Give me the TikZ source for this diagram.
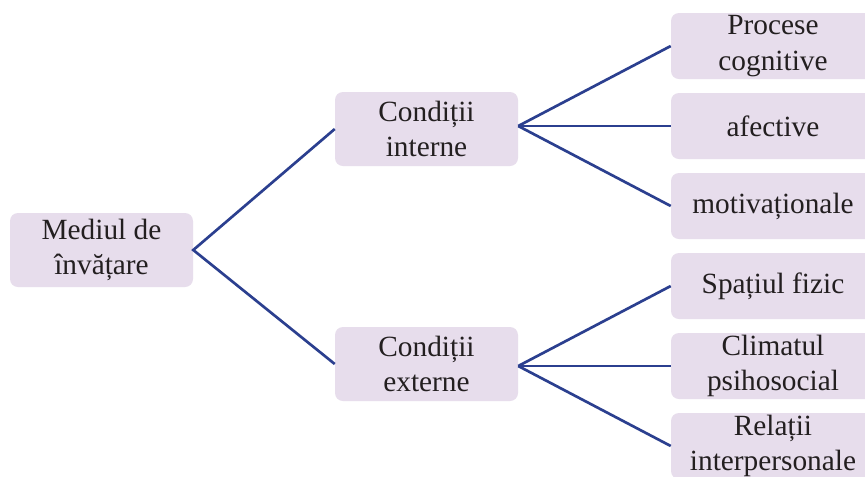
\documentclass[tikz,border=0pt]{standalone}
\usepackage{fontspec}
\setmainfont{Liberation Serif}
\definecolor{boxfill}{HTML}{E7DDEC}
\definecolor{linecol}{HTML}{2B3F8F}
\definecolor{txtcol}{HTML}{231F20}
\tikzset{
  box/.style={fill=boxfill, rounded corners=6pt, inner sep=0pt, align=center,
    text=txtcol, font=\fontsize{22}{26.5}\selectfont},
  bigbox/.style={box, minimum width=137.25pt, minimum height=55.5pt},
  leafbox/.style={box, minimum width=153pt, minimum height=49.5pt},
  conn/.style={draw=linecol, line width=2pt}
}
\begin{document}
\begin{tikzpicture}[x=0.75pt,y=-0.75pt]
\clip (0,0) rectangle (865,476);
\fill[white] (0,0) rectangle (865,476);
\node[bigbox] (med) at (101.5,250) {Mediul de\\învățare};
\node[bigbox] (cint) at (426.5,129) {Condiții\\interne};
\node[bigbox] (cext) at (426.5,364) {Condiții\\externe};
\node[leafbox] (p1) at (773,46) {Procese\\cognitive};
\node[leafbox] (p2) at (773,126) {afective};
\node[leafbox] (p3) at (773,206) {motivaționale};
\node[leafbox] (p4) at (773,286) {Spațiul fizic};
\node[leafbox] (p5) at (773,366) {Climatul\\psihosocial};
\node[leafbox] (p6) at (773,446) {Relații\\interpersonale};
\coordinate (ci) at (cint.east |- p2.west);
\coordinate (ce) at (cext.east |- p5.west);
\draw[conn] (cint.west) -- (med.east) -- (cext.west);
\draw[conn] (ci) -- (p1.west);
\draw[conn] (ci) -- (p2.west);
\draw[conn] (ci) -- (p3.west);
\draw[conn] (ce) -- (p4.west);
\draw[conn] (ce) -- (p5.west);
\draw[conn] (ce) -- (p6.west);
\end{tikzpicture}
\end{document}
